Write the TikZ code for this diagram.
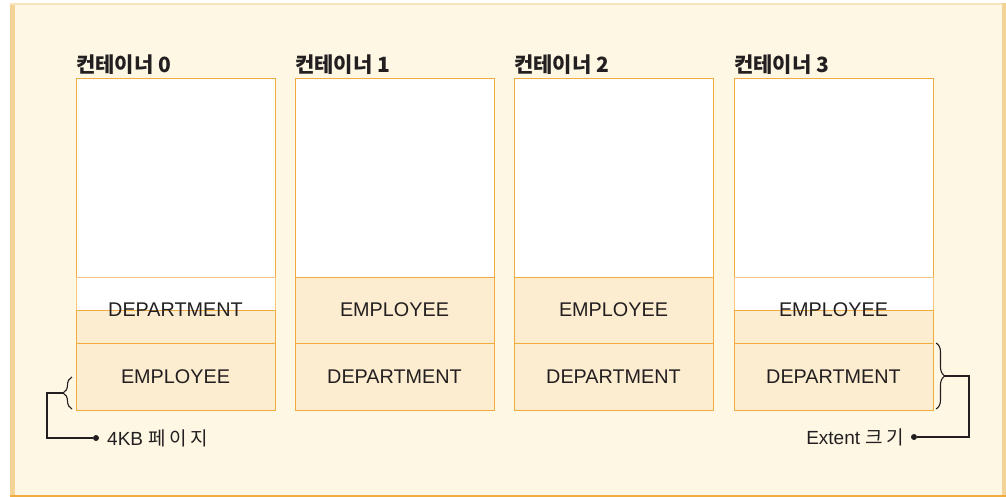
\documentclass[tikz,border=0pt]{standalone}
\usepackage{fontspec}
\setmainfont{Liberation Sans}
\newfontfamily\kr{Noto Sans CJK KR}
\newfontfamily\krsp[LetterSpace=18]{Noto Sans CJK KR}
\usetikzlibrary{decorations.pathreplacing}
\definecolor{panel}{RGB}{253,247,228}
\definecolor{edge}{RGB}{243,212,150}
\definecolor{cellfill}{RGB}{252,237,208}
\definecolor{cellline}{RGB}{240,172,62}
\definecolor{faint}{RGB}{247,200,130}
\definecolor{ink}{RGB}{35,31,32}
\tikzset{
  cell/.style={draw=cellline, line width=1pt, fill=cellfill, inner sep=0pt, minimum width=199pt, anchor=north west},
  blank/.style={cell, fill=white},
  celltext/.style={font=\fontsize{19.8}{20}\selectfont, text=ink, inner sep=0pt},
  title/.style={font=\kr\bfseries\fontsize{21}{21}\selectfont, text=ink, anchor=base west, inner sep=0pt},
  note/.style={font=\fontsize{19}{19}\selectfont, text=ink, inner sep=0pt},
  conn/.style={draw=ink, line width=1.1pt},
  bracestyle/.style={draw=ink, line width=1.1pt, decorate, decoration={brace, amplitude=9pt}},
  dot/.style={circle, fill=ink, inner sep=0pt, minimum size=6pt}
}
\begin{document}
\begin{tikzpicture}[x=1pt, y=-1pt]
\useasboundingbox (0,0) rectangle (1006,497);
% panel
\fill[white] (0,0) rectangle (1006,497);
\fill[panel] (10,3) rectangle (1002,496);
\fill[edge] (10,3) rectangle (15,496);
\fill[edge!60] (10,3) rectangle (1002,5);
\fill[edge] (1002,3) rectangle (1006,497);
\fill[cellline] (10,495) rectangle (1006,497);

% container 0
\node[title] (t0) at (76,73) {컨테이너 0};
\node[blank, minimum height=199pt] (c0top) at (76,78) {};
\node[cell, draw=faint, fill=white, minimum height=33pt] (c0w) at (76,277) {};
\node[cell, minimum height=33pt] (c0a) at (76,310) {};
\node[cell, minimum height=67pt] (c0b) at (76,343) {};
\node[celltext] (c0x) at (175.5,310) {DEPARTMENT};
\node[celltext] (c0y) at (175.5,377) {EMPLOYEE};

% container 1
\node[title] (t1) at (295,73) {컨테이너 1};
\node[blank, minimum height=199pt] (c1top) at (295,78) {};
\node[cell, minimum height=66pt] (c1a) at (295,277) {};
\node[cell, minimum height=67pt] (c1b) at (295,343) {};
\node[celltext] (c1x) at (394.5,310) {EMPLOYEE};
\node[celltext] (c1y) at (394.5,377) {DEPARTMENT};

% container 2
\node[title] (t2) at (514,73) {컨테이너 2};
\node[blank, minimum height=199pt] (c2top) at (514,78) {};
\node[cell, minimum height=66pt] (c2a) at (514,277) {};
\node[cell, minimum height=67pt] (c2b) at (514,343) {};
\node[celltext] (c2x) at (613.5,310) {EMPLOYEE};
\node[celltext] (c2y) at (613.5,377) {DEPARTMENT};

% container 3
\node[title] (t3) at (734,73) {컨테이너 3};
\node[blank, minimum height=199pt] (c3top) at (734,78) {};
\node[cell, draw=faint, fill=white, minimum height=33pt] (c3w) at (734,277) {};
\node[cell, minimum height=33pt] (c3a) at (734,310) {};
\node[cell, minimum height=67pt] (c3b) at (734,343) {};
\node[celltext] (c3x) at (833.5,310) {EMPLOYEE};
\node[celltext] (c3y) at (833.5,377) {DEPARTMENT};

% left brace : 4KB page
\coordinate (lb1) at (72,409);
\coordinate (lb2) at (72,377);
\draw[bracestyle] (lb1) -- (lb2);
\coordinate (ltip) at (63,393);
\coordinate (lcorner1) at (47,393);
\coordinate (lcorner2) at (47,438);
\node[dot] (ldot) at (96,438) {};
\node[note, anchor=west] (lnote) at (107,438) {4KB {\krsp 페이지}};
\draw[conn] (ltip) -- (lcorner1) -- (lcorner2) -- (ldot);

% right brace : extent size
\coordinate (rb1) at (936,343);
\coordinate (rb2) at (936,409);
\draw[bracestyle] (rb1) -- (rb2);
\coordinate (rtip) at (945,376);
\coordinate (rcorner1) at (969,376);
\coordinate (rcorner2) at (969,437);
\node[dot] (rdot) at (914,437) {};
\node[note, anchor=east] (rnote) at (904,437) {Extent {\krsp 크기}};
\draw[conn] (rtip) -- (rcorner1) -- (rcorner2) -- (rdot);
\end{tikzpicture}
\end{document}
